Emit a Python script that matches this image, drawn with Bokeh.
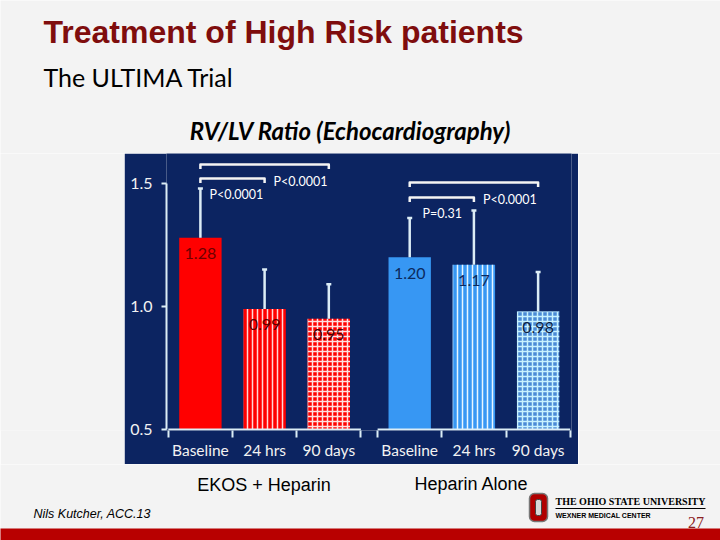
from bokeh.plotting import figure
from bokeh.layouts import column, row
from bokeh.models import (ColumnDataSource, FixedTicker, Whisker, TeeHead, Range1d,
                          NumeralTickFormatter)
from bokeh.core.properties import value
from bokeh.embed import file_html
from bokeh.resources import INLINE

# ---------------- data ----------------
groups = ["EKOS + Heparin", "Heparin Alone"]
timepoints = ["Baseline", "24 hrs", "90 days"]
ekos_ratio = [1.28, 0.99, 0.95]
ekos_upper = [1.48, 1.15, 1.09]
heparin_ratio = [1.20, 1.17, 0.98]
heparin_upper = [1.36, 1.39, 1.14]
# p-values: baseline vs 24 hrs, baseline vs 90 days
ekos_pvalues = ["P<0.0001", "P<0.0001"]
heparin_pvalues = ["P=0.31", "P<0.0001"]
y_ticks = [0.5, 1.0, 1.5]

# ---------------- styles / layout ----------------
NAVY = "#0c2461"
AXIS = "#dcedf6"
SLIDE = "#f3f3f3"
GROUP_GAP = 0.26
BAR_W = 0.66
BASE = 0.5
FILL = {0: ["#ff0000", "#ff0000", "#ff0000"], 1: ["#3797f3", "#3797f3", "#4a8ad6"]}
HATCH = ["blank", "vertical_line", "cross"]
HATCH_SCALE = 5
HATCH_COLOR = {0: ["#ffffff", "#ffd6d6", "#ffe0e0"], 1: ["#ffffff", "#e8f6ff", "#c8f2ff"]}
LABEL_COLOR = {0: ["#6e0000", "#5a0000", "#4a0000"], 1: ["#0b2a5e", "#0b2a5e", "#0b1f45"]}
BRACKET_Y = {0: (1.52, 1.577), 1: (1.443, 1.504)}

all_ratios = [ekos_ratio, heparin_ratio]
all_upper = [ekos_upper, heparin_upper]
all_p = [ekos_pvalues, heparin_pvalues]

xs, tops, ups, fills, hatches, hcols, lcols, labels = [], [], [], [], [], [], [], []
group_pos = []
for g in range(len(groups)):
    gp = []
    for i, t in enumerate(timepoints):
        pos = 1 + i + g * (len(timepoints) + GROUP_GAP)
        gp.append(pos)
        xs.append(pos)
        tops.append(all_ratios[g][i])
        ups.append(all_upper[g][i])
        fills.append(FILL[g][i])
        hatches.append(HATCH[i])
        hcols.append(HATCH_COLOR[g][i])
        lcols.append(LABEL_COLOR[g][i])
        labels.append(f"{all_ratios[g][i]:.2f}")
    group_pos.append(gp)

src = ColumnDataSource(dict(x=xs, top=tops, upper=ups, fill=fills, hatch=hatches,
                            hcol=hcols, lcol=lcols, label=labels))


def blank(w, h, xr, yr):
    f = figure(width=w, height=h, output_backend="svg", toolbar_location=None,
               x_range=Range1d(*xr), y_range=Range1d(*yr),
               x_axis_location=None, y_axis_location=None,
               min_border=0, background_fill_color=SLIDE, border_fill_color=SLIDE,
               outline_line_color=None)
    f.grid.visible = False
    return f


# ---------------- chart ----------------
X_START, X_END = 0.472, 6.78
CH_TOP, CH_BOTTOM = 153, 464          # slide rows occupied by the chart panel
p = figure(width=454, height=CH_BOTTOM - CH_TOP, output_backend="svg",
           toolbar_location=None,
           x_range=Range1d(X_START, X_END), y_range=Range1d(0.4959, 1.622),
           min_border_left=42, min_border_right=7, min_border_top=0,
           min_border_bottom=34, background_fill_color=NAVY,
           border_fill_color=NAVY, outline_line_color=None)
p.grid.visible = False

p.vbar(x="x", top="top", bottom=BASE, width=BAR_W, source=src,
       fill_color="fill", line_color=None, hatch_pattern="hatch",
       hatch_color="hcol", hatch_scale=HATCH_SCALE, hatch_weight=1.5)

wh = Whisker(source=src, base="x", lower="top", upper="upper", dimension="height",
             line_color=AXIS, line_width=2.5, lower_head=None,
             upper_head=TeeHead(size=5, line_color=AXIS, line_width=2.5),
             level="annotation")
p.add_layout(wh)

p.text(x="x", y="top", text="label", source=src, y_offset=16,
       text_align="center", text_baseline="middle", text_color="lcol",
       text_font=value("Lato"), text_font_size="16px")

seg_x0 = [max(gp[0] - 0.5, X_START) for gp in group_pos]
seg_x1 = [gp[-1] + 0.5 for gp in group_pos]
p.segment(x0=seg_x0, x1=seg_x1, y0=[BASE] * 2, y1=[BASE] * 2,
          line_color=AXIS, line_width=2)

bx, by, tx, ty, tt = [], [], [], [], []
D = 0.018
for g in range(len(groups)):
    gp = group_pos[g]
    y_in, y_out = BRACKET_Y[g]
    bx.append([gp[0], gp[0], gp[1], gp[1]])
    by.append([y_in - D, y_in, y_in, y_in - D])
    bx.append([gp[0], gp[0], gp[2], gp[2]])
    by.append([y_out - D, y_out, y_out, y_out - D])
    tx.append(gp[0] + (0.14 if g == 0 else 0.2))
    ty.append(y_in - 0.063)
    tt.append(all_p[g][0])
    tx.append(gp[1] + 0.14)
    ty.append(y_out - 0.068)
    tt.append(all_p[g][1])
p.multi_line(xs=bx, ys=by, line_color="#f4f4f4", line_width=2.5, line_join="round")
p.text(x=tx, y=ty, text=tt, text_color="#ffffff", text_font=value("Lato"),
       text_font_size="12.5px", text_align="left", text_baseline="middle")

ya = p.yaxis[0]
ya.ticker = FixedTicker(ticks=y_ticks, minor_ticks=[])
ya.formatter = NumeralTickFormatter(format="0.0")
ya.bounds = (y_ticks[0], y_ticks[-1])
ya.axis_line_color = AXIS
ya.axis_line_width = 2
ya.major_tick_line_color = AXIS
ya.major_tick_line_width = 2
ya.major_tick_out = 5
ya.major_tick_in = 0
ya.major_label_standoff = 9
ya.major_label_text_color = "#f2f2f2"
ya.major_label_text_font = "Lato"
ya.major_label_text_font_size = "16px"

xa = p.xaxis[0]
centers = [pos for gp in group_pos for pos in gp]
bounds = [b for gp in group_pos for b in ([q - 0.5 for q in gp] + [gp[-1] + 0.5])]
xa.ticker = FixedTicker(ticks=centers, minor_ticks=bounds)
xa.major_label_overrides = {c: timepoints[k % len(timepoints)] for k, c in enumerate(centers)}
xa.axis_line_color = None
xa.major_tick_line_color = None
xa.major_tick_out = 0
xa.major_tick_in = 0
xa.minor_tick_line_color = AXIS
xa.minor_tick_line_width = 2
xa.minor_tick_out = 7
xa.minor_tick_in = 0
xa.major_label_standoff = 3
xa.major_label_text_color = "#f2f2f2"
xa.major_label_text_font = "Lato"
xa.major_label_text_font_size = "15.5px"

# ---------------- slide pieces (pixel coordinates of the slide) ----------------
header = blank(720, CH_TOP, (0, 720), (CH_TOP, 0))
header.text(x=[43], y=[31], text=["Treatment of High Risk patients"],
            text_font=value("Liberation Sans"), text_font_style="bold",
            text_font_size="32px", text_color="#7f0d0d", text_baseline="middle")
header.text(x=[43], y=[76], text=["The ULTIMA Trial"], text_font=value("Lato"),
            text_font_size="25px", text_color="#000000", text_baseline="middle")
header.text(x=[350], y=[130], text=["RV/LV Ratio (Echocardiography)"],
            text_font=value("Lato"), text_font_style="bold italic",
            text_font_size="24px", text_color="#000000", text_baseline="middle",
            text_align="center")

left = blank(124, CH_BOTTOM - CH_TOP, (0, 1), (0, 1))
right = blank(720 - 124 - 454, CH_BOTTOM - CH_TOP, (0, 1), (0, 1))

footer = blank(720, 540 - CH_BOTTOM, (0, 720), (540, CH_BOTTOM))
footer.text(x=[263.5, 471], y=[484, 483], text=groups,
            text_font=value("Liberation Sans"), text_font_size="18px",
            text_color="#000000", text_baseline="middle", text_align="center")
footer.text(x=[33], y=[513], text=["Nils Kutcher, ACC.13"],
            text_font=value("Liberation Sans"), text_font_style="italic",
            text_font_size="12.5px", text_color="#000000", text_baseline="middle")
footer.quad(left=[-20], right=[740], top=[528], bottom=[545],
            fill_color="#b80000", line_color=None)
footer.quad(left=[529], right=[547], top=[493], bottom=[521],
            fill_color="#b00000", line_color="#777777", line_width=1.5,
            border_radius=5)
footer.quad(left=[535], right=[541], top=[499], bottom=[515],
            fill_color="#d8d8d8", line_color="#444444", line_width=1, border_radius=2)
footer.segment(x0=[555], x1=[705], y0=[508], y1=[508], line_color="#000000", line_width=1)
footer.text(x=[555], y=[501], text=["THE OHIO STATE UNIVERSITY"],
            text_font=value("Liberation Serif"), text_font_style="bold",
            text_font_size="10px", text_color="#000000", text_baseline="middle")
footer.text(x=[555], y=[515], text=["WEXNER MEDICAL CENTER"],
            text_font=value("Liberation Sans"), text_font_style="bold",
            text_font_size="7px", text_color="#000000", text_baseline="middle")
footer.text(x=[695.5], y=[522], text=["27"], text_font=value("Liberation Serif"),
            text_font_size="16px", text_color="#8b2020", text_baseline="middle",
            text_align="center")

layout = column(header, row(left, p, right, spacing=0), footer, spacing=0)

open("out.html", "w").write(file_html(layout, INLINE))
